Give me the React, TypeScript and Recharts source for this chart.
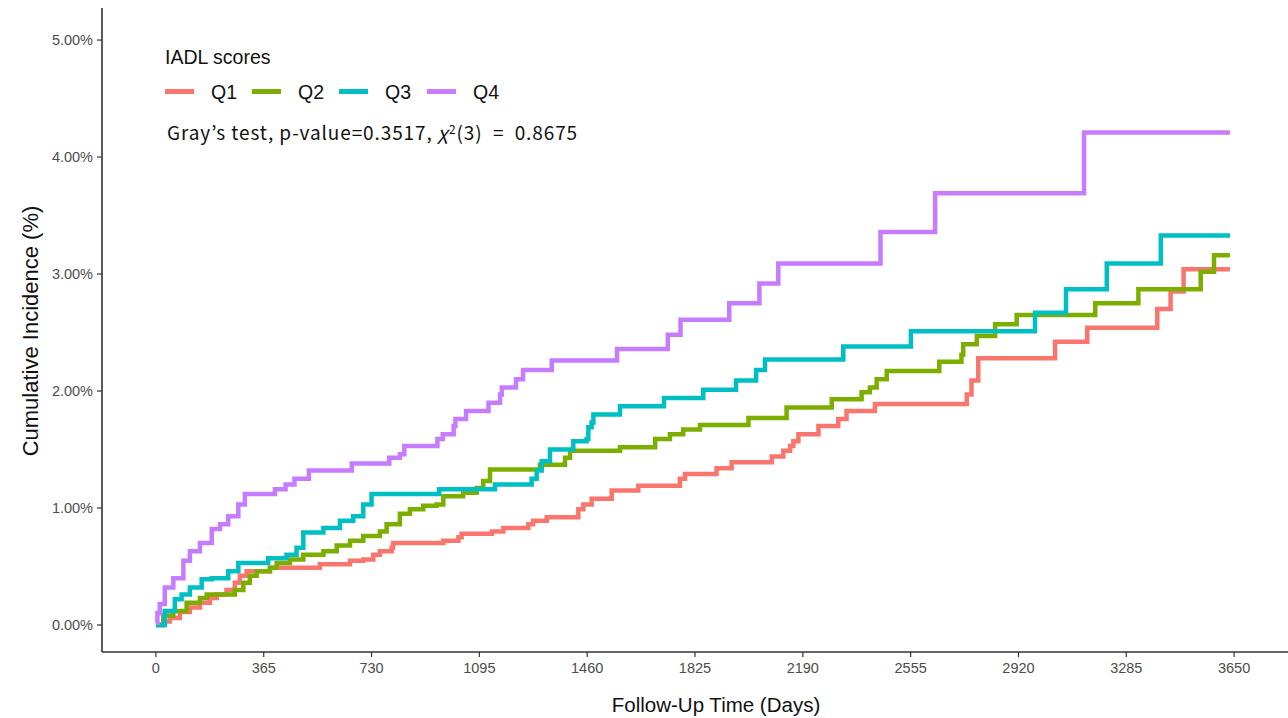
import { LineChart, Line, XAxis, YAxis } from "recharts";

// days since baseline and cumulative incidence (%) at each event, per IADL quartile
const q1Days = [0, 25, 47, 81, 115, 149, 183, 206, 239, 267, 284, 307, 386, 555, 657, 702, 736, 758, 798, 803, 973, 1024, 1035, 1137, 1176, 1261, 1277, 1323, 1430, 1447, 1475, 1543, 1633, 1774, 1791, 1898, 1949, 2085, 2124, 2147, 2158, 2175, 2243, 2310, 2338, 2434, 2745, 2761, 2784, 3044, 3153, 3390, 3435, 3479, 3636];
const q1Inc = [0, 0.03, 0.06, 0.11, 0.15, 0.19, 0.23, 0.26, 0.3, 0.36, 0.42, 0.46, 0.49, 0.52, 0.55, 0.56, 0.6, 0.63, 0.66, 0.7, 0.72, 0.75, 0.78, 0.8, 0.83, 0.86, 0.89, 0.92, 0.99, 1.03, 1.08, 1.15, 1.19, 1.25, 1.29, 1.34, 1.39, 1.44, 1.49, 1.53, 1.57, 1.63, 1.7, 1.76, 1.83, 1.89, 1.97, 2.09, 2.28, 2.42, 2.54, 2.7, 2.85, 3.04, 3.04];

const q2Days = [0, 25, 59, 104, 149, 172, 267, 296, 318, 341, 386, 409, 454, 499, 567, 612, 657, 702, 758, 781, 826, 860, 905, 950, 973, 1040, 1086, 1108, 1131, 1300, 1385, 1402, 1571, 1690, 1740, 1785, 1842, 2006, 2135, 2288, 2389, 2417, 2440, 2474, 2652, 2727, 2733, 2779, 2841, 2914, 3180, 3326, 3537, 3582, 3636];
const q2Inc = [0, 0.08, 0.12, 0.19, 0.23, 0.26, 0.3, 0.36, 0.42, 0.46, 0.49, 0.53, 0.56, 0.6, 0.63, 0.68, 0.72, 0.76, 0.8, 0.86, 0.95, 0.99, 1.02, 1.03, 1.1, 1.13, 1.17, 1.23, 1.33, 1.37, 1.43, 1.49, 1.52, 1.59, 1.63, 1.67, 1.71, 1.77, 1.86, 1.93, 1.99, 2.03, 2.1, 2.17, 2.25, 2.31, 2.4, 2.47, 2.57, 2.65, 2.75, 2.87, 3.02, 3.16, 3.16];

const q3Days = [0, 30, 64, 87, 115, 155, 189, 245, 279, 380, 442, 476, 499, 567, 623, 668, 702, 730, 959, 1148, 1272, 1289, 1306, 1334, 1413, 1458, 1464, 1475, 1481, 1571, 1720, 1853, 1964, 2032, 2062, 2327, 2556, 2976, 3081, 3219, 3402, 3636];
const q3Inc = [0, 0.12, 0.22, 0.26, 0.32, 0.39, 0.4, 0.46, 0.53, 0.57, 0.6, 0.66, 0.79, 0.83, 0.89, 0.93, 1.03, 1.12, 1.16, 1.2, 1.25, 1.32, 1.4, 1.5, 1.57, 1.59, 1.69, 1.73, 1.8, 1.87, 1.94, 2.01, 2.09, 2.18, 2.27, 2.38, 2.51, 2.67, 2.87, 3.09, 3.33, 3.33];

const q4Days = [0, 5, 13, 30, 59, 93, 115, 149, 189, 217, 245, 279, 301, 403, 439, 469, 518, 663, 790, 826, 841, 953, 971, 1008, 1014, 1050, 1126, 1165, 1171, 1219, 1243, 1340, 1561, 1733, 1776, 1941, 2043, 2107, 2453, 2638, 3142, 3636];
const q4Inc = [0.02, 0.1, 0.18, 0.32, 0.4, 0.55, 0.63, 0.7, 0.82, 0.86, 0.93, 1.03, 1.12, 1.16, 1.2, 1.25, 1.32, 1.38, 1.43, 1.46, 1.53, 1.59, 1.63, 1.7, 1.76, 1.83, 1.9, 1.97, 2.03, 2.1, 2.18, 2.26, 2.36, 2.48, 2.61, 2.75, 2.92, 3.09, 3.36, 3.69, 4.21, 4.21];

const groups = ["Q1", "Q2", "Q3", "Q4"];
const colors = ["#F8766D", "#7CAE00", "#00BFC4", "#C77CFF"];
const xTicks = [0, 365, 730, 1095, 1460, 1825, 2190, 2555, 2920, 3285, 3650];
const yTicks = [0, 1, 2, 3, 4, 5];

const toRows = (days: number[], inc: number[]) =>
  days.map((day, i) => ({ day, inc: inc[i] }));

const series = [
  toRows(q1Days, q1Inc),
  toRows(q2Days, q2Inc),
  toRows(q3Days, q3Inc),
  toRows(q4Days, q4Inc),
];

const axisFont = '"Liberation Sans", Arial, sans-serif';
const legendX = [165, 252, 339, 427];

export default function App() {
  return (
    <div style={{ position: "absolute", left: 0, top: 0, width: 1288, height: 718, background: "#fff" }}>
      <LineChart width={1288} height={718} margin={{ top: 8, right: 0, bottom: 0, left: 0 }}>
        <XAxis
          type="number"
          dataKey="day"
          domain={[-182.5, 3832.5]}
          ticks={xTicks}
          allowDataOverflow
          height={66}
          tickSize={5}
          tickLine={{ stroke: "#333", strokeWidth: 1.2 }}
          axisLine={{ stroke: "#333", strokeWidth: 1.6 }}
          tick={{ fill: "#4D4D4D", fontSize: 14.5, fontFamily: axisFont }}
          tickMargin={6}
        />
        <YAxis
          type="number"
          domain={[-0.231, 5.274]}
          ticks={yTicks}
          allowDataOverflow
          width={102}
          tickSize={5}
          tickLine={{ stroke: "#333", strokeWidth: 1.2 }}
          axisLine={{ stroke: "#333", strokeWidth: 1.6 }}
          tick={{ fill: "#4D4D4D", fontSize: 14.5, fontFamily: axisFont }}
          tickMargin={4}
          tickFormatter={(v: number) => `${v.toFixed(2)}%`}
        />
        {series.map((rows, i) => (
          <Line
            key={groups[i]}
            data={rows}
            dataKey="inc"
            name={groups[i]}
            type="stepAfter"
            stroke={colors[i]}
            strokeWidth={4.5}
            dot={false}
            isAnimationActive={false}
          />
        ))}
      </LineChart>

      <div
        style={{
          position: "absolute",
          left: 31,
          top: 331,
          transform: "translate(-50%, -50%) rotate(-90deg)",
          whiteSpace: "nowrap",
          fontFamily: axisFont,
          fontSize: 22,
          color: "#111",
        }}
      >
        Cumulative Incidence (%)
      </div>
      <div
        style={{
          position: "absolute",
          left: 716,
          top: 705,
          transform: "translate(-50%, -50%)",
          whiteSpace: "nowrap",
          fontFamily: axisFont,
          fontSize: 20.5,
          color: "#111",
        }}
      >
        Follow-Up Time (Days)
      </div>

      <div style={{ position: "absolute", left: 165, top: 48, fontFamily: axisFont, fontSize: 19.5, lineHeight: "19px", color: "#111" }}>
        IADL scores
      </div>
      {groups.map((g, i) => (
        <div key={g}>
          <div
            style={{
              position: "absolute",
              left: legendX[i],
              top: 89,
              width: 29,
              height: 5,
              background: colors[i],
            }}
          />
          <div
            style={{
              position: "absolute",
              left: legendX[i] + 46,
              top: 83,
              fontFamily: axisFont,
              fontSize: 19.5,
              lineHeight: "19px",
              color: "#111",
            }}
          >
            {g}
          </div>
        </div>
      ))}
      <div
        style={{
          position: "absolute",
          left: 167,
          top: 119,
          fontFamily: '"Noto Sans CJK KR", "Noto Sans", sans-serif',
          fontSize: 19,
          letterSpacing: 0.9,
          lineHeight: "20px",
          color: "#111",
          whiteSpace: "nowrap",
        }}
      >
        Gray’s test, p-value=0.3517, <i>χ</i>
        <sup style={{ fontSize: 12, verticalAlign: "6px" }}>2</sup>(3)&nbsp; = &nbsp;0.8675
      </div>
    </div>
  );
}
